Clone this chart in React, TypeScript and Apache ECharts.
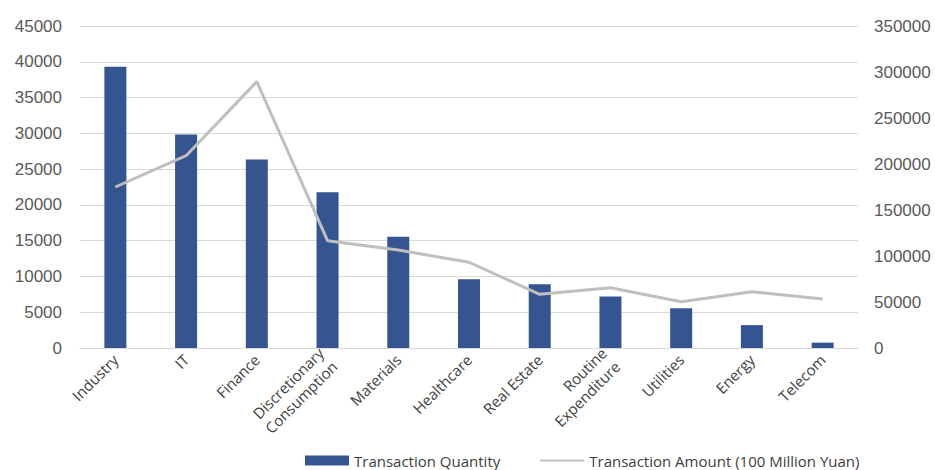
import React, { useEffect, useRef } from "react";
import * as echarts from "echarts";

const categories = [
  "Industry",
  "IT",
  "Finance",
  "Discretionary\nConsumption",
  "Materials",
  "Healthcare",
  "Real Estate",
  "Routine\nExpenditure",
  "Utilities",
  "Energy",
  "Telecom",
];
const transactionQuantity = [39300, 29850, 26350, 21750, 15550, 9600, 8900, 7200, 5550, 3200, 750];
const transactionAmount = [175000, 209000, 289500, 116600, 106500, 93200, 58400, 65500, 50300, 61200, 53300];

export default function App() {
  const ref = useRef<HTMLDivElement>(null);
  useEffect(() => {
    if (!ref.current) return;
    const chart = echarts.init(ref.current, null, { renderer: "svg" });
    chart.setOption({
      animation: false,
      backgroundColor: "#ffffff",
      grid: { left: 80, right: 77, top: 26, bottom: 122 },
      legend: {
        left: 305,
        top: 453,
        padding: 0,
        itemWidth: 44,
        itemHeight: 10,
        itemGap: 39,
        textStyle: { fontFamily: "Open Sans", fontSize: 15, color: "#404040" },
        data: [
          { name: "Transaction Quantity", icon: "rect" },
          { name: "Transaction Amount (100 Million Yuan)", itemStyle: { opacity: 0 } },
        ],
      },
      xAxis: {
        type: "category",
        data: categories,
        axisTick: { show: false },
        axisLine: { show: true, lineStyle: { color: "#D9D9D9", width: 1 } },
        axisLabel: {
          rotate: 45,
          interval: 0,
          margin: 9,
          fontFamily: "Open Sans",
          fontSize: 15,
          color: "#404040",
          lineHeight: 19,
        },
      },
      yAxis: [
        {
          type: "value",
          min: 0,
          max: 45000,
          interval: 5000,
          axisLine: { show: false },
          axisTick: { show: false },
          splitLine: { lineStyle: { color: "#D9D9D9", width: 1.2 } },
          axisLabel: {
            fontFamily: "Liberation Sans",
            fontSize: 17,
            color: "#595959",
            margin: 18,
            formatter: (v: number) => String(v),
          },
        },
        {
          type: "value",
          min: 0,
          max: 350000,
          interval: 50000,
          axisLine: { show: false },
          axisTick: { show: false },
          splitLine: { show: false },
          axisLabel: {
            fontFamily: "Liberation Sans",
            fontSize: 17,
            color: "#595959",
            margin: 16,
            formatter: (v: number) => String(v),
          },
        },
      ],
      series: [
        {
          name: "Transaction Quantity",
          type: "bar",
          data: transactionQuantity,
          barWidth: 22,
          itemStyle: { color: "#34558F" },
        },
        {
          name: "Transaction Amount (100 Million Yuan)",
          type: "line",
          yAxisIndex: 1,
          data: transactionAmount,
          showSymbol: false,
          symbol: "none",
          lineStyle: { color: "#BFBFBF", width: 3 },
          itemStyle: { color: "#BFBFBF" },
        },
      ],
    });
    return () => chart.dispose();
  }, []);
  return <div ref={ref} style={{ width: 935, height: 470, position: "absolute", left: 0, top: 0 }} />;
}
